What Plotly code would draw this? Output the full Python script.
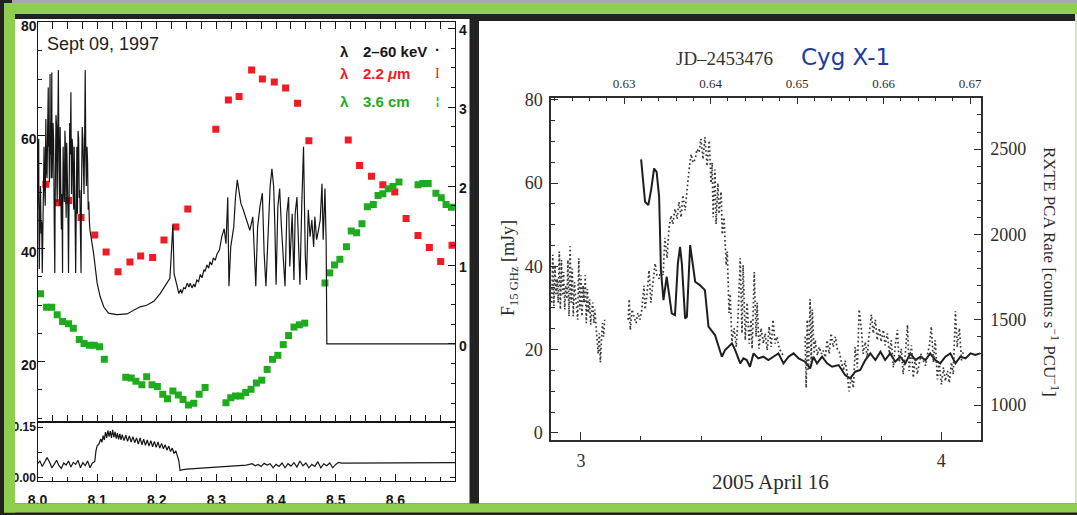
import plotly.graph_objects as go

W, H = 1077, 515


def fx(p):
    return p / W


def fy(p):
    return 1 - p / H


# ---------------- Sept 09, 1997 ----------------
# 2.2 micron (IR) flux, mJy
ir_t = [8.014, 8.034, 8.052, 8.073, 8.096, 8.115, 8.135, 8.155, 8.173, 8.193, 8.212, 8.232,
        8.252, 8.299, 8.320, 8.338, 8.359, 8.377, 8.397, 8.416, 8.436, 8.455, 8.521, 8.540,
        8.560, 8.579, 8.599, 8.618, 8.638, 8.657, 8.676, 8.695]
ir_flux = [51.4, 48.1, 48.5, 45.5, 42.4, 39.4, 35.9, 37.6, 38.7, 38.4, 41.5, 43.8,
           47.0, 61.1, 66.3, 66.9, 71.6, 70.0, 69.5, 68.4, 65.7, 59.1, 59.2, 54.7,
           52.8, 51.3, 50.0, 45.3, 42.3, 40.2, 37.7, 40.6]

# 3.6 cm (radio) flux, mJy
radio_t = [8.005, 8.015, 8.024, 8.033, 8.042, 8.052, 8.060, 8.070, 8.078, 8.087, 8.095, 8.104,
           8.112, 8.148, 8.157, 8.165, 8.175, 8.183, 8.192, 8.201, 8.210, 8.218, 8.227, 8.236,
           8.244, 8.253, 8.262, 8.271, 8.281, 8.316, 8.324, 8.332, 8.341, 8.349, 8.358, 8.367,
           8.376, 8.385, 8.394, 8.403, 8.412, 8.421, 8.430, 8.439, 8.448, 8.482, 8.490, 8.498,
           8.507, 8.518, 8.526, 8.535, 8.544, 8.553, 8.563, 8.571, 8.579, 8.588, 8.596, 8.606,
           8.638, 8.646, 8.655, 8.668, 8.677, 8.685, 8.694]
radio_flux = [32.0, 29.6, 29.6, 28.3, 27.1, 26.7, 25.9, 23.9, 23.2, 22.9, 22.9, 22.6,
              20.4, 17.2, 17.1, 16.5, 15.9, 17.3, 15.9, 15.6, 14.2, 13.4, 14.8, 14.1,
              13.3, 12.3, 12.6, 14.2, 15.4, 12.7, 13.6, 13.9, 13.9, 14.5, 15.1, 16.2,
              16.7, 18.6, 20.4, 21.1, 23.0, 24.6, 26.1, 26.5, 26.8, 33.9, 35.7, 37.1,
              38.1, 40.3, 43.1, 42.8, 44.4, 47.4, 47.8, 49.4, 49.7, 50.6, 51.0, 51.8,
              51.3, 51.5, 51.5, 49.8, 49.0, 47.8, 47.3]

# 2-60 keV X-ray rate (right-hand scale)
xray_t = [8.000, 8.001, 8.002, 8.0025, 8.003, 8.004, 8.005, 8.006, 8.007, 8.008,
          8.009, 8.010, 8.0105, 8.011, 8.012, 8.013, 8.0135, 8.014, 8.015, 8.016,
          8.017, 8.018, 8.0185, 8.019, 8.020, 8.021, 8.0215, 8.022, 8.023, 8.024,
          8.0245, 8.025, 8.026, 8.027, 8.028, 8.029, 8.0295, 8.030, 8.031, 8.032,
          8.0325, 8.033, 8.034, 8.035, 8.036, 8.037, 8.0375, 8.038, 8.039, 8.040,
          8.041, 8.042, 8.0425, 8.043, 8.044, 8.045, 8.046, 8.047, 8.0475, 8.048,
          8.049, 8.050, 8.051, 8.052, 8.0525, 8.053, 8.054, 8.055, 8.056, 8.0565,
          8.057, 8.058, 8.059, 8.060, 8.061, 8.0615, 8.062, 8.063, 8.064, 8.065,
          8.066, 8.0665, 8.067, 8.068, 8.069, 8.070, 8.071, 8.072, 8.073, 8.0735,
          8.074, 8.075, 8.076, 8.077, 8.078, 8.079, 8.080, 8.081, 8.082, 8.083,
          8.084, 8.085, 8.086, 8.087, 8.088,
          8.094, 8.100, 8.105, 8.111, 8.119, 8.133, 8.150, 8.161, 8.172, 8.183,
          8.195, 8.206, 8.214, 8.222, 8.225, 8.227, 8.229, 8.234, 8.237, 8.240,
          8.242, 8.245, 8.248, 8.251, 8.254, 8.256, 8.259, 8.262, 8.264, 8.267,
          8.270, 8.273, 8.276, 8.279, 8.281, 8.284, 8.287, 8.289, 8.292, 8.295,
          8.298, 8.301, 8.305, 8.309, 8.313, 8.316,
          8.319, 8.321, 8.324, 8.329, 8.332, 8.335, 8.338, 8.341, 8.345, 8.351,
          8.356, 8.361, 8.363, 8.366, 8.369, 8.373, 8.377, 8.380, 8.383, 8.387,
          8.390, 8.393, 8.396, 8.398, 8.400, 8.403, 8.406, 8.409, 8.412, 8.415,
          8.418, 8.421, 8.423, 8.427, 8.430, 8.432, 8.435, 8.438, 8.440, 8.443,
          8.446, 8.449, 8.451, 8.454, 8.457, 8.460, 8.463, 8.465, 8.468, 8.471,
          8.474, 8.477, 8.479, 8.482, 8.484, 8.485, 8.4851, 8.700]
xray_rate = [1.70, 2.40, 2.60, 1.40, 0.95, 1.60, 2.00, 1.40, 1.55, 0.90,
             1.50, 1.90, 2.30, 2.50, 1.95, 1.75, 2.40, 2.85, 2.20, 2.10,
             2.70, 3.25, 2.50, 2.60, 2.05, 3.42, 2.40, 2.80, 2.10, 3.44,
             2.10, 2.30, 2.80, 2.60, 1.60, 0.90, 1.70, 2.10, 2.90, 2.75,
             2.00, 1.80, 2.70, 3.47, 2.30, 1.75, 2.40, 2.75, 2.00, 1.45,
             1.90, 0.90, 2.00, 2.50, 2.00, 1.80, 2.70, 2.45, 1.90, 1.60,
             2.55, 2.25, 1.70, 0.90, 2.00, 2.30, 2.80, 2.40, 3.19, 2.50,
             1.90, 2.60, 2.50, 1.80, 1.70, 2.50, 2.30, 1.60, 0.90, 1.80,
             2.50, 2.00, 1.65, 2.70, 2.60, 1.85, 1.95, 1.40, 0.90, 1.80,
             2.10, 2.75, 2.60, 2.00, 1.90, 2.60, 3.47, 2.40, 2.00, 2.50,
             2.30, 1.70, 1.80, 1.55, 1.44,
             1.15, 0.77, 0.60, 0.47, 0.39, 0.37, 0.38, 0.43, 0.47, 0.49,
             0.54, 0.64, 0.73, 0.83, 1.23, 1.51, 0.89, 0.71, 0.64, 0.69,
             0.64, 0.71, 0.70, 0.77, 0.72, 0.77, 0.71, 0.76, 0.72, 0.81,
             0.79, 0.88, 0.84, 0.94, 0.92, 1.00, 0.96, 1.04, 1.00, 1.09,
             1.06, 1.14, 1.19, 1.36, 1.46, 1.27,
             1.86, 0.73, 1.23, 1.48, 1.86, 2.08, 1.91, 1.78, 1.70, 1.57,
             1.44, 1.61, 1.32, 0.73, 1.48, 1.74, 1.91, 1.15, 0.73, 1.48,
             1.99, 2.22, 1.99, 1.48, 0.75, 1.74, 1.97, 1.48, 1.15, 0.73,
             1.65, 1.86, 0.98, 1.65, 0.81, 1.65, 1.86, 1.32, 0.75, 1.74,
             2.50, 1.11, 0.81, 1.70, 1.36, 1.57, 1.23, 1.61, 1.32, 1.44,
             1.57, 2.03, 1.32, 1.97, 1.27, 0.18, 0.0, 0.0]

# hardness ratio (lower strip)
hr_t = [8.000, 8.004, 8.008, 8.012, 8.016, 8.020, 8.024, 8.028, 8.032, 8.036,
        8.040, 8.044, 8.048, 8.052, 8.056, 8.060, 8.064, 8.068, 8.072, 8.076,
        8.080, 8.084, 8.088, 8.092, 8.096, 8.098, 8.100,
        8.103, 8.106, 8.108, 8.110, 8.112, 8.114, 8.116, 8.118, 8.120, 8.122,
        8.124, 8.126, 8.128, 8.130, 8.132, 8.134, 8.136, 8.138, 8.140, 8.142,
        8.145, 8.148, 8.151, 8.154, 8.157, 8.160, 8.163, 8.166, 8.169, 8.172,
        8.175, 8.178, 8.181, 8.184, 8.187, 8.190, 8.193, 8.196, 8.199, 8.202,
        8.205, 8.208, 8.211, 8.214, 8.217, 8.220, 8.223, 8.226, 8.229, 8.232,
        8.235, 8.237, 8.239, 8.242,
        8.250, 8.260, 8.270, 8.280, 8.290, 8.300, 8.310, 8.320, 8.330, 8.340, 8.350,
        8.360, 8.365, 8.370, 8.375, 8.380, 8.385, 8.390, 8.395, 8.400, 8.405,
        8.410, 8.415, 8.420, 8.425, 8.430, 8.435, 8.440, 8.445, 8.450, 8.455,
        8.460, 8.465, 8.470, 8.475, 8.480, 8.485, 8.490, 8.495, 8.500, 8.505,
        8.510, 8.700]
hr_val = [0.042, 0.050, 0.034, 0.046, 0.060, 0.048, 0.030, 0.040, 0.052, 0.036,
          0.028, 0.044, 0.038, 0.050, 0.032, 0.046, 0.040, 0.052, 0.030, 0.045,
          0.036, 0.050, 0.030, 0.044, 0.048, 0.080, 0.095,
          0.100, 0.115, 0.105, 0.125, 0.112, 0.135, 0.118, 0.140, 0.122, 0.138,
          0.118, 0.142, 0.120, 0.136, 0.116, 0.132, 0.114, 0.130, 0.112, 0.128,
          0.110, 0.126, 0.108, 0.124, 0.106, 0.122, 0.104, 0.118, 0.100, 0.118,
          0.098, 0.114, 0.096, 0.112, 0.094, 0.110, 0.092, 0.108, 0.090, 0.106,
          0.088, 0.102, 0.086, 0.098, 0.082, 0.094, 0.078, 0.088, 0.072, 0.080,
          0.062, 0.050, 0.022, 0.024,
          0.026, 0.027, 0.029, 0.030, 0.031, 0.032, 0.033, 0.034, 0.036, 0.037, 0.038,
          0.042, 0.036, 0.040, 0.034, 0.043, 0.038, 0.042, 0.030, 0.040, 0.034,
          0.044, 0.030, 0.042, 0.035, 0.045, 0.032, 0.050, 0.036, 0.044, 0.030,
          0.040, 0.034, 0.048, 0.030, 0.042, 0.036, 0.044, 0.030, 0.040, 0.046,
          0.044, 0.045]

# ---------------- Cyg X-1, 2005 April 16 ----------------
# 15 GHz radio flux (solid), mJy vs. hours UT
ryle_t = [3.167, 3.172, 3.178, 3.187, 3.195, 3.203, 3.210, 3.217, 3.222, 3.229,
          3.233, 3.238, 3.243, 3.252, 3.261, 3.269, 3.275, 3.280, 3.289, 3.294,
          3.303, 3.309, 3.317, 3.330, 3.344, 3.354, 3.372, 3.391, 3.400, 3.419,
          3.428, 3.442, 3.451, 3.460, 3.469, 3.479, 3.492, 3.506, 3.520, 3.534,
          3.548, 3.562, 3.576, 3.590, 3.604, 3.622, 3.636, 3.645, 3.655, 3.669,
          3.683, 3.697, 3.715, 3.733, 3.747, 3.761, 3.775, 3.789, 3.803, 3.817,
          3.831, 3.844, 3.858, 3.872, 3.886, 3.900, 3.914, 3.928, 3.942, 3.956,
          3.969, 3.983, 3.997, 4.011, 4.025, 4.039, 4.053, 4.067, 4.081, 4.094,
          4.108]
ryle_flux = [65.7, 60.0, 55.5, 54.7, 58.5, 63.5, 62.7, 56.7, 39.1, 31.9,
             35.1, 37.5, 34.3, 28.7, 28.3, 40.7, 44.7, 40.7, 27.5, 27.9,
             45.1, 40.7, 36.3, 35.5, 34.3, 25.5, 23.5, 18.3, 19.9, 21.5,
             19.9, 16.7, 17.9, 17.5, 15.9, 19.1, 17.9, 18.3, 17.5, 18.3,
             19.1, 16.7, 18.3, 19.1, 17.9, 17.1, 15.5, 18.3, 16.7, 18.3,
             16.7, 15.9, 16.3, 13.9, 13.1, 14.7, 15.1, 17.5, 19.1, 17.5,
             19.5, 17.5, 19.1, 17.1, 18.3, 16.7, 19.1, 17.5, 18.3, 17.5,
             19.1, 17.5, 16.7, 18.3, 19.1, 16.7, 18.3, 17.9, 19.1, 18.7,
             19.1]

# RXTE PCA count rate (dotted), three pointings
pca_t1 = [2.919, 2.922, 2.925, 2.928, 2.931, 2.934, 2.937, 2.940, 2.943, 2.946,
          2.949, 2.952, 2.955, 2.958, 2.961, 2.964, 2.967, 2.970, 2.973, 2.976,
          2.979, 2.982, 2.985, 2.988, 2.991, 2.994, 2.997, 3.000, 3.003, 3.006,
          3.009, 3.012, 3.015, 3.018, 3.021, 3.024, 3.027, 3.030, 3.033, 3.036,
          3.039, 3.042, 3.045, 3.048, 3.051, 3.054, 3.057, 3.060, 3.063, 3.066]
pca_r1 = [1600, 1880, 1580, 1820, 1650, 1740, 1600, 1900, 1560, 1850,
          1640, 1780, 1560, 1700, 1620, 1850, 1520, 1930, 1600, 1800,
          1520, 1720, 1640, 1580, 1500, 1860, 1560, 1760, 1520, 1700,
          1600, 1760, 1480, 1680, 1540, 1620, 1470, 1560, 1600, 1480,
          1560, 1460, 1400, 1300, 1420, 1250, 1380, 1480, 1400, 1500]
pca_t2 = [3.131, 3.134, 3.137, 3.142, 3.147, 3.153, 3.158, 3.164, 3.169, 3.175,
          3.178, 3.183, 3.189, 3.194, 3.200, 3.206, 3.211, 3.217, 3.222, 3.228,
          3.233, 3.239, 3.244, 3.250, 3.255, 3.261, 3.267, 3.272, 3.278, 3.283,
          3.289, 3.294, 3.300, 3.306, 3.311, 3.317, 3.322, 3.328, 3.333, 3.339,
          3.344, 3.350, 3.356, 3.361, 3.364, 3.367, 3.372, 3.375, 3.380, 3.383,
          3.389, 3.392, 3.397, 3.403, 3.406, 3.411, 3.414, 3.419, 3.425, 3.431,
          3.436, 3.442, 3.447, 3.450, 3.456, 3.461, 3.467, 3.472, 3.475, 3.481,
          3.486, 3.489, 3.494, 3.500, 3.506, 3.511, 3.517, 3.522, 3.528, 3.533,
          3.539, 3.544, 3.550, 3.556, 3.561]
pca_r2 = [1500, 1620, 1440, 1560, 1520, 1480, 1540, 1500, 1560, 1700,
          1560, 1640, 1790, 1600, 1720, 1830, 1760, 1740, 1800, 1760,
          1980, 1860, 2030, 2110, 2060, 2150, 2090, 2190, 2100, 2230,
          2140, 2260, 2380, 2470, 2420, 2440, 2500, 2480, 2560, 2440,
          2570, 2400, 2550, 2300, 2420, 2100, 2380, 2060, 2300, 2120,
          2250, 2000, 2100, 1820, 1900, 1540, 1650, 1370, 1450, 1340,
          1520, 1860, 1420, 1820, 1380, 1600, 1360, 1500, 1330, 1780,
          1400, 1600, 1330, 1450, 1360, 1420, 1320, 1460, 1340, 1500,
          1360, 1400, 1330, 1310, 1290]
pca_t3 = [3.622, 3.625, 3.628, 3.631, 3.636, 3.639, 3.642, 3.647, 3.650, 3.656,
          3.661, 3.667, 3.672, 3.678, 3.683, 3.689, 3.694, 3.700, 3.706, 3.711,
          3.717, 3.722, 3.728, 3.733, 3.739, 3.744, 3.750, 3.756, 3.761, 3.767,
          3.772, 3.778, 3.783, 3.789, 3.794, 3.800, 3.806, 3.811, 3.817, 3.822,
          3.828, 3.833, 3.839, 3.844, 3.850, 3.856, 3.861, 3.867, 3.872, 3.878,
          3.883, 3.889, 3.894, 3.900, 3.906, 3.911, 3.917, 3.922, 3.928, 3.933,
          3.939, 3.944, 3.950, 3.956, 3.961, 3.967, 3.972, 3.978, 3.983, 3.989,
          3.994, 4.000, 4.006, 4.011, 4.017, 4.022, 4.028, 4.033, 4.039, 4.044,
          4.050, 4.056, 4.061]
pca_r3 = [1400, 1100, 1500, 1200, 1620, 1250, 1560, 1300, 1380, 1290,
          1340, 1300, 1320, 1280, 1380, 1300, 1420, 1340, 1400, 1330,
          1310, 1250, 1200, 1260, 1180, 1080, 1160, 1100, 1340, 1220,
          1560, 1450, 1300, 1370, 1280, 1420, 1530, 1420, 1500, 1380,
          1450, 1370, 1440, 1350, 1420, 1300, 1380, 1220, 1350, 1440,
          1250, 1330, 1180, 1300, 1470, 1200, 1350, 1160, 1280, 1180,
          1250, 1300, 1260, 1230, 1290, 1350, 1460, 1250, 1380, 1150,
          1250, 1120, 1220, 1140, 1200, 1130, 1250, 1180, 1550, 1340,
          1450, 1260, 1320]

pca_t = pca_t1 + [None] + pca_t2 + [None] + pca_t3
pca_rate = pca_r1 + [None] + pca_r2 + [None] + pca_r3

left_ticks_x = [8.0, 8.1, 8.2, 8.3, 8.4, 8.5, 8.6]
right_ticks_y = [1000, 1500, 2000, 2500]

# ---------------- styling ----------------
GREEN = "#8fce4e"
INK = "#161616"
GREY_INK = "#2e2e2e"
RED = "#ee1c24"
GRN = "#1eab1e"
SANS = "Liberation Sans"
SERIF = "Liberation Serif"

fig = go.Figure()

fig.add_trace(go.Scatter(x=xray_t, y=xray_rate, xaxis="x", yaxis="y2", mode="lines",
                         line=dict(color=INK, width=1.2), hoverinfo="skip"))
fig.add_trace(go.Scatter(x=ir_t, y=ir_flux, xaxis="x", yaxis="y", mode="markers",
                         marker=dict(symbol="square", size=7, color=RED)))
fig.add_trace(go.Scatter(x=radio_t, y=radio_flux, xaxis="x", yaxis="y", mode="markers",
                         marker=dict(symbol="square", size=7, color=GRN)))
fig.add_trace(go.Scatter(x=hr_t, y=hr_val, xaxis="x2", yaxis="y3", mode="lines",
                         line=dict(color=INK, width=1.2)))
fig.add_trace(go.Scatter(x=pca_t, y=pca_rate, xaxis="x3", yaxis="y5", mode="lines",
                         connectgaps=False,
                         line=dict(color="#3a3a3a", width=1.7, dash="1.7px,2.6px")))
fig.add_trace(go.Scatter(x=ryle_t, y=ryle_flux, xaxis="x3", yaxis="y4", mode="lines",
                         line=dict(color="#1e1e1e", width=2)))
# carrier for the JD fraction axis along the top
fig.add_trace(go.Scatter(x=[0.63, 0.67], y=[None, None], xaxis="x4", yaxis="y4",
                         mode="lines", hoverinfo="skip"))

bold_font = dict(family=SANS, size=14, color=INK, weight="bold")
serif_font = dict(family=SERIF, size=18, color=GREY_INK)

ax_left = dict(showline=True, linecolor=INK, linewidth=1.4, ticks="inside",
               tickcolor=INK, tickwidth=1.3, showgrid=False, zeroline=False,
               automargin=False)
ax_right = dict(showline=True, linecolor=GREY_INK, linewidth=1.5, ticks="inside",
                tickcolor=GREY_INK, tickwidth=1.3, showgrid=False, zeroline=False,
                automargin=False)

LX = [fx(37.5), fx(455)]
RX = [fx(551), fx(981)]

fig.update_layout(
    width=W, height=H, margin=dict(l=0, r=0, t=0, b=0, pad=0, autoexpand=False),
    paper_bgcolor="#222222", plot_bgcolor="rgba(0,0,0,0)",
    showlegend=False,
    xaxis=dict(domain=LX, anchor="y", range=[8.0, 8.70], tick0=8.0, dtick=0.1,
               showticklabels=False, ticklen=7, mirror="allticks",
               minor=dict(dtick=0.025, tick0=8.0, ticks="inside", ticklen=4, tickcolor=INK),
               **ax_left),
    yaxis=dict(domain=[fy(422), fy(22)], anchor="x", range=[9.3, 80.1], tick0=0, dtick=20,
               ticklen=7, tickfont=bold_font, ticklabelshift=4, ticklabelstandoff=-3,
               minor=dict(dtick=5, tick0=0, ticks="inside", ticklen=4, tickcolor=INK),
               **ax_left),
    yaxis2=dict(overlaying="y", side="right", anchor="x", range=[-0.99, 4.08], tick0=0,
                dtick=1, ticklen=7, tickfont=bold_font, ticklabelshift=2,
                minor=dict(dtick=0.25, tick0=0, ticks="inside", ticklen=4, tickcolor=INK),
                **ax_left),
    xaxis2=dict(domain=LX, anchor="y3", range=[8.0, 8.70], tickvals=left_ticks_x,
                tickformat=".1f", ticklen=7, mirror=True, ticklabelstandoff=6,
                tickfont=dict(family=SANS, size=14, color=INK, weight="bold"),
                minor=dict(dtick=0.025, tick0=8.0, ticks="inside", ticklen=4, tickcolor=INK),
                **ax_left),
    yaxis3=dict(domain=[fy(481), fy(422)], anchor="x2", range=[-0.009, 0.165],
                tickvals=[0, 0.15], ticktext=["0.00", "0.15"], ticklen=5,
                mirror="allticks", ticklabelstandoff=-2,
                tickfont=dict(family=SANS, size=12, color=INK, weight="bold"),
                minor=dict(dtick=0.075, tick0=0, ticks="inside", ticklen=4, tickcolor=INK),
                **ax_left),
    xaxis3=dict(domain=RX, anchor="y4", range=[2.917, 4.11], tickvals=[3, 4],
                ticklen=8, tickfont=serif_font, ticklabelstandoff=4,
                minor=dict(dtick=1 / 6, tick0=3, ticks="inside", ticklen=4, tickcolor=GREY_INK),
                **ax_right),
    xaxis4=dict(overlaying="x3", side="top", anchor="y4", range=[0.62154, 0.67125],
                tick0=0.63, dtick=0.01, tickformat=".2f", ticklen=7,
                tickfont=dict(family=SERIF, size=13, color=GREY_INK), ticklabelstandoff=3,
                minor=dict(dtick=0.002, tick0=0.63, ticks="inside", ticklen=4, tickcolor=GREY_INK),
                **ax_right),
    yaxis4=dict(domain=[fy(440), fy(97.7)], anchor="x3", range=[-1.7, 80.5], tick0=0, dtick=20,
                ticklen=7, tickfont=serif_font, ticklabelstandoff=3,
                minor=dict(dtick=5, tick0=0, ticks="inside", ticklen=4, tickcolor=GREY_INK),
                **ax_right),
    yaxis5=dict(overlaying="y4", side="right", anchor="x3", range=[795, 2801],
                tickvals=right_ticks_y, ticklen=7, tickfont=serif_font, ticklabelstandoff=4,
                minor=dict(dtick=100, tick0=1000, ticks="inside", ticklen=4, tickcolor=GREY_INK),
                **ax_right),
)


def rect(x0, y0, x1, y1, color, layer):
    return dict(type="rect", xref="paper", yref="paper", x0=fx(x0), x1=fx(x1),
                y0=fy(y1), y1=fy(y0), fillcolor=color, line=dict(width=0), layer=layer)


fig.update_layout(shapes=[
    rect(15, 19, 469.5, 503.5, "white", "below"),
    rect(479, 21, 1075, 503.5, "white", "below"),
    rect(12, 0, W, 3, "#a6a9a5", "above"),
    rect(4, 3, W, 14, GREEN, "above"),
    rect(4, 3, 15, 512.5, GREEN, "above"),
    rect(4, 503.5, W, 512.5, GREEN, "above"),
    rect(1075, 14, W, 503.5, "#cfe9b9", "above"),
])


def note(text, x, y, font, xanchor="center", yanchor="middle", angle=0):
    return dict(text=text, x=fx(x), y=fy(y), xref="paper", yref="paper",
                xanchor=xanchor, yanchor=yanchor, showarrow=False, font=font,
                textangle=angle)


legend_font = dict(family=SANS, size=15, weight="bold")
fig.update_layout(annotations=[
    note("Sept 09, 1997", 45, 44, dict(family=SANS, size=18, color="#222222"), xanchor="left"),
    note("λ", 344, 51, dict(legend_font, color=INK)),
    note("2–60 keV", 361, 51, dict(legend_font, color=INK), xanchor="left"),
    note("·", 437, 50, dict(legend_font, color=INK)),
    note("λ", 344, 74, dict(legend_font, color=RED)),
    note("2.2 <i>μ</i>m", 361, 74, dict(legend_font, color=RED), xanchor="left"),
    note("I", 437, 74, dict(family=SERIF, size=14, color=RED)),
    note("λ", 344, 101, dict(legend_font, color=GRN)),
    note("3.6 cm", 361, 101, dict(legend_font, color=GRN), xanchor="left"),
    note("¦", 437, 101, dict(family=SANS, size=11, color=GRN, weight="bold")),
    note("JD–2453476", 724, 58, dict(family=SERIF, size=19, color="#333333")),
    note("Cyg X-1", 845, 57, dict(family="DejaVu Sans", size=23, color="#1c3c9c")),
    note("2005 April 16", 770, 482, dict(family=SERIF, size=21, color="#2a2a2a")),
    note("F<sub>15 GHz</sub> [mJy]", 509, 268, dict(family=SERIF, size=18, color="#2a2a2a"),
         angle=-90),
    note("RXTE PCA Rate [counts s<sup>−1</sup> PCU<sup>−1</sup>]", 1051, 272,
         dict(family=SERIF, size=17, color="#2a2a2a"), angle=90),
])

fig.write_html("out.html")
